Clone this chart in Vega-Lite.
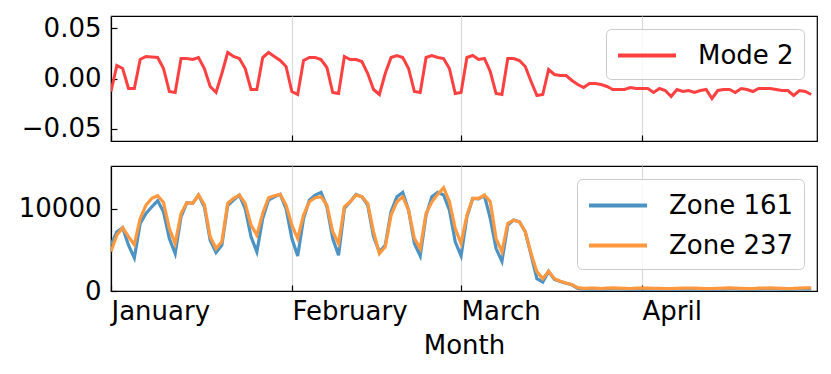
{
  "$schema": "https://vega.github.io/schema/vega-lite/v6.json",
  "background": "white",
  "padding": {"left": 17, "top": 14, "right": 15, "bottom": 5},
  "config": {
    "font": "DejaVu Sans",
    "view": {"stroke": "black", "strokeWidth": 1.2},
    "axis": {
      "labelFont": "DejaVu Sans", "labelFontSize": 26, "labelColor": "black",
      "tickColor": "black", "tickSize": -6, "tickWidth": 1.2,
      "domainColor": "black", "domainWidth": 1.2,
      "titleFont": "DejaVu Sans", "titleFontSize": 26, "titleFontWeight": "normal", "titleColor": "black",
      "grid": false
    },
    "legend": {
      "orient": "top-right", "offset": 13, "title": null,
      "symbolType": "M-1,0H3", "symbolSize": 841, "symbolStrokeWidth": 4,
      "labelFont": "DejaVu Sans", "labelFontSize": 26, "labelColor": "black", "labelOffset": 49,
      "padding": 10, "rowPadding": 10,
      "strokeColor": "#cccccc", "fillColor": "rgba(255,255,255,0.8)", "cornerRadius": 5
    }
  },
  "data": {"values": [
    {"date": "2020/01/01", "Mode 2": -0.013, "Zone 161": 5600, "Zone 237": 4800},
    {"date": "2020/01/02", "Mode 2": 0.013, "Zone 161": 7200, "Zone 237": 6800},
    {"date": "2020/01/03", "Mode 2": 0.010, "Zone 161": 7700, "Zone 237": 7700},
    {"date": "2020/01/04", "Mode 2": -0.010, "Zone 161": 5570, "Zone 237": 6600},
    {"date": "2020/01/05", "Mode 2": -0.010, "Zone 161": 4020, "Zone 237": 5650},
    {"date": "2020/01/06", "Mode 2": 0.019, "Zone 161": 8200, "Zone 237": 8820},
    {"date": "2020/01/07", "Mode 2": 0.022, "Zone 161": 9430, "Zone 237": 10450},
    {"date": "2020/01/08", "Mode 2": 0.0215, "Zone 161": 10240, "Zone 237": 11260},
    {"date": "2020/01/09", "Mode 2": 0.021, "Zone 161": 10980, "Zone 237": 11590},
    {"date": "2020/01/10", "Mode 2": 0.010, "Zone 161": 9630, "Zone 237": 10770},
    {"date": "2020/01/11", "Mode 2": -0.013, "Zone 161": 6380, "Zone 237": 7600},
    {"date": "2020/01/12", "Mode 2": -0.014, "Zone 161": 4550, "Zone 237": 5770},
    {"date": "2020/01/13", "Mode 2": 0.020, "Zone 161": 9020, "Zone 237": 9430},
    {"date": "2020/01/14", "Mode 2": 0.020, "Zone 161": 10730, "Zone 237": 10730},
    {"date": "2020/01/15", "Mode 2": 0.019, "Zone 161": 10650, "Zone 237": 10650},
    {"date": "2020/01/16", "Mode 2": 0.021, "Zone 161": 11670, "Zone 237": 11670},
    {"date": "2020/01/17", "Mode 2": 0.010, "Zone 161": 10240, "Zone 237": 10520},
    {"date": "2020/01/18", "Mode 2": -0.008, "Zone 161": 6180, "Zone 237": 6590},
    {"date": "2020/01/19", "Mode 2": -0.014, "Zone 161": 4670, "Zone 237": 5160},
    {"date": "2020/01/20", "Mode 2": 0.005, "Zone 161": 5570, "Zone 237": 5980},
    {"date": "2020/01/21", "Mode 2": 0.026, "Zone 161": 10400, "Zone 237": 10650},
    {"date": "2020/01/22", "Mode 2": 0.022, "Zone 161": 11060, "Zone 237": 11260},
    {"date": "2020/01/23", "Mode 2": 0.020, "Zone 161": 11670, "Zone 237": 11670},
    {"date": "2020/01/24", "Mode 2": 0.010, "Zone 161": 10030, "Zone 237": 10650},
    {"date": "2020/01/25", "Mode 2": -0.011, "Zone 161": 6590, "Zone 237": 8010},
    {"date": "2020/01/26", "Mode 2": -0.011, "Zone 161": 4760, "Zone 237": 6790},
    {"date": "2020/01/27", "Mode 2": 0.021, "Zone 161": 8820, "Zone 237": 9430},
    {"date": "2020/01/28", "Mode 2": 0.026, "Zone 161": 11060, "Zone 237": 11340},
    {"date": "2020/01/29", "Mode 2": 0.022, "Zone 161": 11460, "Zone 237": 11590},
    {"date": "2020/01/30", "Mode 2": 0.018, "Zone 161": 11750, "Zone 237": 11750},
    {"date": "2020/01/31", "Mode 2": 0.012, "Zone 161": 10030, "Zone 237": 10450},
    {"date": "2020/02/01", "Mode 2": -0.013, "Zone 161": 6380, "Zone 237": 8010},
    {"date": "2020/02/02", "Mode 2": -0.016, "Zone 161": 4270, "Zone 237": 6380},
    {"date": "2020/02/03", "Mode 2": 0.018, "Zone 161": 8820, "Zone 237": 9230},
    {"date": "2020/02/04", "Mode 2": 0.021, "Zone 161": 11060, "Zone 237": 10850},
    {"date": "2020/02/05", "Mode 2": 0.021, "Zone 161": 11670, "Zone 237": 11340},
    {"date": "2020/02/06", "Mode 2": 0.019, "Zone 161": 11990, "Zone 237": 11460},
    {"date": "2020/02/07", "Mode 2": 0.011, "Zone 161": 10240, "Zone 237": 10450},
    {"date": "2020/02/08", "Mode 2": -0.014, "Zone 161": 6380, "Zone 237": 7200},
    {"date": "2020/02/09", "Mode 2": -0.015, "Zone 161": 4350, "Zone 237": 5770},
    {"date": "2020/02/10", "Mode 2": 0.022, "Zone 161": 10030, "Zone 237": 10240},
    {"date": "2020/02/11", "Mode 2": 0.019, "Zone 161": 10850, "Zone 237": 10850},
    {"date": "2020/02/12", "Mode 2": 0.019, "Zone 161": 11750, "Zone 237": 11670},
    {"date": "2020/02/13", "Mode 2": 0.017, "Zone 161": 11460, "Zone 237": 11460},
    {"date": "2020/02/14", "Mode 2": 0.005, "Zone 161": 10450, "Zone 237": 10650},
    {"date": "2020/02/15", "Mode 2": -0.011, "Zone 161": 6590, "Zone 237": 7200},
    {"date": "2020/02/16", "Mode 2": -0.016, "Zone 161": 4760, "Zone 237": 4550},
    {"date": "2020/02/17", "Mode 2": 0.005, "Zone 161": 5570, "Zone 237": 5370},
    {"date": "2020/02/18", "Mode 2": 0.021, "Zone 161": 9630, "Zone 237": 9230},
    {"date": "2020/02/19", "Mode 2": 0.023, "Zone 161": 11460, "Zone 237": 10850},
    {"date": "2020/02/20", "Mode 2": 0.021, "Zone 161": 11990, "Zone 237": 11460},
    {"date": "2020/02/21", "Mode 2": 0.010, "Zone 161": 9840, "Zone 237": 9840},
    {"date": "2020/02/22", "Mode 2": -0.013, "Zone 161": 5770, "Zone 237": 6380},
    {"date": "2020/02/23", "Mode 2": -0.014, "Zone 161": 4270, "Zone 237": 5160},
    {"date": "2020/02/24", "Mode 2": 0.021, "Zone 161": 9230, "Zone 237": 9430},
    {"date": "2020/02/25", "Mode 2": 0.023, "Zone 161": 11460, "Zone 237": 10850},
    {"date": "2020/02/26", "Mode 2": 0.021, "Zone 161": 11990, "Zone 237": 11750},
    {"date": "2020/02/27", "Mode 2": 0.020, "Zone 161": 11670, "Zone 237": 12560},
    {"date": "2020/02/28", "Mode 2": 0.010, "Zone 161": 9840, "Zone 237": 10850},
    {"date": "2020/02/29", "Mode 2": -0.015, "Zone 161": 5980, "Zone 237": 7600},
    {"date": "2020/03/01", "Mode 2": -0.014, "Zone 161": 4270, "Zone 237": 5770},
    {"date": "2020/03/02", "Mode 2": 0.021, "Zone 161": 9020, "Zone 237": 9230},
    {"date": "2020/03/03", "Mode 2": 0.023, "Zone 161": 11260, "Zone 237": 11260},
    {"date": "2020/03/04", "Mode 2": 0.019, "Zone 161": 11200, "Zone 237": 11260},
    {"date": "2020/03/05", "Mode 2": 0.020, "Zone 161": 11590, "Zone 237": 11670},
    {"date": "2020/03/06", "Mode 2": 0.007, "Zone 161": 8820, "Zone 237": 10850},
    {"date": "2020/03/07", "Mode 2": -0.015, "Zone 161": 5160, "Zone 237": 6380},
    {"date": "2020/03/08", "Mode 2": -0.016, "Zone 161": 3620, "Zone 237": 4760},
    {"date": "2020/03/09", "Mode 2": 0.020, "Zone 161": 8010, "Zone 237": 8210},
    {"date": "2020/03/10", "Mode 2": 0.020, "Zone 161": 8620, "Zone 237": 8620},
    {"date": "2020/03/11", "Mode 2": 0.018, "Zone 161": 8420, "Zone 237": 8420},
    {"date": "2020/03/12", "Mode 2": 0.012, "Zone 161": 7200, "Zone 237": 7200},
    {"date": "2020/03/13", "Mode 2": -0.003, "Zone 161": 4350, "Zone 237": 4550},
    {"date": "2020/03/14", "Mode 2": -0.017, "Zone 161": 1500, "Zone 237": 2320},
    {"date": "2020/03/15", "Mode 2": -0.016, "Zone 161": 1100, "Zone 237": 1500},
    {"date": "2020/03/16", "Mode 2": 0.009, "Zone 161": 2400, "Zone 237": 2400},
    {"date": "2020/03/17", "Mode 2": 0.004, "Zone 161": 1400, "Zone 237": 1500},
    {"date": "2020/03/18", "Mode 2": 0.003, "Zone 161": 1150, "Zone 237": 1180},
    {"date": "2020/03/19", "Mode 2": 0.003, "Zone 161": 950, "Zone 237": 980},
    {"date": "2020/03/20", "Mode 2": -0.002, "Zone 161": 750, "Zone 237": 770},
    {"date": "2020/03/21", "Mode 2": -0.006, "Zone 161": 300, "Zone 237": 400},
    {"date": "2020/03/22", "Mode 2": -0.009, "Zone 161": 220, "Zone 237": 330},
    {"date": "2020/03/23", "Mode 2": -0.005, "Zone 161": 250, "Zone 237": 360},
    {"date": "2020/03/24", "Mode 2": -0.005, "Zone 161": 240, "Zone 237": 350},
    {"date": "2020/03/25", "Mode 2": -0.006, "Zone 161": 200, "Zone 237": 300},
    {"date": "2020/03/26", "Mode 2": -0.008, "Zone 161": 230, "Zone 237": 340},
    {"date": "2020/03/27", "Mode 2": -0.011, "Zone 161": 260, "Zone 237": 370},
    {"date": "2020/03/28", "Mode 2": -0.011, "Zone 161": 250, "Zone 237": 360},
    {"date": "2020/03/29", "Mode 2": -0.011, "Zone 161": 220, "Zone 237": 330},
    {"date": "2020/03/30", "Mode 2": -0.009, "Zone 161": 190, "Zone 237": 290},
    {"date": "2020/03/31", "Mode 2": -0.010, "Zone 161": 230, "Zone 237": 340},
    {"date": "2020/04/01", "Mode 2": -0.010, "Zone 161": 240, "Zone 237": 350},
    {"date": "2020/04/02", "Mode 2": -0.010, "Zone 161": 250, "Zone 237": 360},
    {"date": "2020/04/03", "Mode 2": -0.014, "Zone 161": 230, "Zone 237": 330},
    {"date": "2020/04/04", "Mode 2": -0.010, "Zone 161": 210, "Zone 237": 310},
    {"date": "2020/04/05", "Mode 2": -0.012, "Zone 161": 200, "Zone 237": 290},
    {"date": "2020/04/06", "Mode 2": -0.018, "Zone 161": 180, "Zone 237": 280},
    {"date": "2020/04/07", "Mode 2": -0.011, "Zone 161": 220, "Zone 237": 320},
    {"date": "2020/04/08", "Mode 2": -0.013, "Zone 161": 240, "Zone 237": 350},
    {"date": "2020/04/09", "Mode 2": -0.012, "Zone 161": 250, "Zone 237": 360},
    {"date": "2020/04/10", "Mode 2": -0.014, "Zone 161": 240, "Zone 237": 340},
    {"date": "2020/04/11", "Mode 2": -0.012, "Zone 161": 210, "Zone 237": 310},
    {"date": "2020/04/12", "Mode 2": -0.011, "Zone 161": 190, "Zone 237": 290},
    {"date": "2020/04/13", "Mode 2": -0.020, "Zone 161": 180, "Zone 237": 280},
    {"date": "2020/04/14", "Mode 2": -0.012, "Zone 161": 220, "Zone 237": 330},
    {"date": "2020/04/15", "Mode 2": -0.011, "Zone 161": 240, "Zone 237": 350},
    {"date": "2020/04/16", "Mode 2": -0.011, "Zone 161": 260, "Zone 237": 370},
    {"date": "2020/04/17", "Mode 2": -0.014, "Zone 161": 250, "Zone 237": 350},
    {"date": "2020/04/18", "Mode 2": -0.010, "Zone 161": 220, "Zone 237": 320},
    {"date": "2020/04/19", "Mode 2": -0.011, "Zone 161": 200, "Zone 237": 300},
    {"date": "2020/04/20", "Mode 2": -0.013, "Zone 161": 190, "Zone 237": 290},
    {"date": "2020/04/21", "Mode 2": -0.010, "Zone 161": 230, "Zone 237": 340},
    {"date": "2020/04/22", "Mode 2": -0.010, "Zone 161": 250, "Zone 237": 360},
    {"date": "2020/04/23", "Mode 2": -0.010, "Zone 161": 260, "Zone 237": 370},
    {"date": "2020/04/24", "Mode 2": -0.011, "Zone 161": 250, "Zone 237": 350},
    {"date": "2020/04/25", "Mode 2": -0.012, "Zone 161": 220, "Zone 237": 320},
    {"date": "2020/04/26", "Mode 2": -0.012, "Zone 161": 200, "Zone 237": 300},
    {"date": "2020/04/27", "Mode 2": -0.017, "Zone 161": 210, "Zone 237": 310},
    {"date": "2020/04/28", "Mode 2": -0.012, "Zone 161": 240, "Zone 237": 350},
    {"date": "2020/04/29", "Mode 2": -0.013, "Zone 161": 260, "Zone 237": 370},
    {"date": "2020/04/30", "Mode 2": -0.016, "Zone 161": 270, "Zone 237": 380}
  ]},
  "spacing": 25,
  "bounds": "flush",
  "resolve": {"scale": {"color": "independent"}, "legend": {"color": "independent"}},
  "vconcat": [
    {
      "width": 706,
      "height": 125,
      "mark": {"type": "line", "strokeWidth": 3, "clip": true},
      "encoding": {
        "x": {
          "field": "date", "type": "temporal",
          "scale": {"domain": [{"year": 2020, "month": 1, "date": 1}, {"year": 2020, "month": 5, "date": 1}]},
          "axis": {
            "values": [{"year": 2020, "month": 1, "date": 1}, {"year": 2020, "month": 2, "date": 1}, {"year": 2020, "month": 3, "date": 1}, {"year": 2020, "month": 4, "date": 1}],
            "labels": false, "title": null, "grid": true, "gridColor": "#d9d9d9", "gridWidth": 1.2
          }
        },
        "y": {
          "field": "Mode 2", "type": "quantitative",
          "scale": {"domain": [-0.0625, 0.0625], "nice": false, "zero": false},
          "axis": {"values": [-0.05, 0, 0.05], "format": ".2f", "title": null, "labelPadding": 16}
        },
        "color": {
          "datum": "Mode 2", "type": "nominal",
          "scale": {"range": ["#ff4040"]}
        }
      }
    },
    {
      "width": 706,
      "height": 125,
      "transform": [{"fold": ["Zone 161", "Zone 237"], "as": ["zone", "value"]}],
      "mark": {"type": "line", "strokeWidth": 3.2, "clip": true},
      "encoding": {
        "x": {
          "field": "date", "type": "temporal",
          "scale": {"domain": [{"year": 2020, "month": 1, "date": 1}, {"year": 2020, "month": 5, "date": 1}]},
          "axis": {
            "values": [{"year": 2020, "month": 1, "date": 1}, {"year": 2020, "month": 2, "date": 1}, {"year": 2020, "month": 3, "date": 1}, {"year": 2020, "month": 4, "date": 1}],
            "format": "%B", "labelAlign": "left", "labelFlush": false, "labelOverlap": false,
            "labelPadding": 13, "title": "Month", "titlePadding": 8,
            "grid": true, "gridColor": "#d9d9d9", "gridWidth": 1.2
          }
        },
        "y": {
          "field": "value", "type": "quantitative",
          "scale": {"domain": [0, 15200], "nice": false},
          "axis": {"values": [0, 10000], "format": "d", "title": null, "labelPadding": 16}
        },
        "color": {
          "field": "zone", "type": "nominal",
          "scale": {"range": ["#4c92c3", "#ff983e"]}
        }
      }
    }
  ]
}
